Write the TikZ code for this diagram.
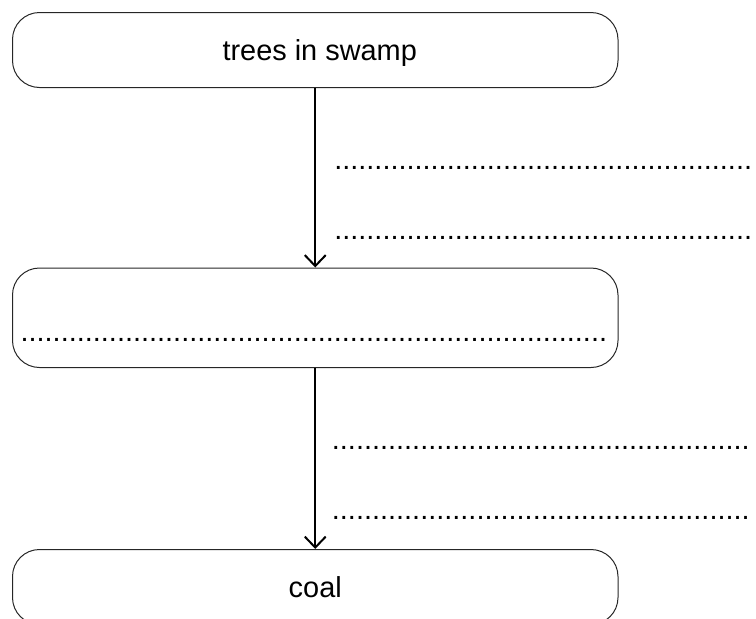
\documentclass[tikz,border=0pt]{standalone}
\usepackage{fontspec}
\setmainfont{Liberation Sans}
\usetikzlibrary{arrows.meta}

\newcommand\dotrow[1]{\foreach \k in {1,...,#1}{.}}

\begin{document}
\begin{tikzpicture}[x=1pt,y=-1pt,
    box/.style={draw=black!85,line width=1pt,rounded corners=27pt,inner sep=0pt,
                minimum width=605.5pt,text height=20pt,text depth=0pt},
    gap/.style={inner sep=0pt,anchor=base west},
    every node/.style={font=\fontsize{28.9pt}{34pt}\selectfont},
    step arrow/.style={line width=2pt,-{Straight Barb[length=11pt,width=21pt]}}]
    \useasboundingbox (0,0) rectangle (756,619);
    \node[box,minimum height=75pt] (trees) at (315.25,50) {\hspace*{9pt}trees in swamp};
    \node[box,minimum height=99.5pt] (mid) at (315.25,317.75) {};
    \node[box,minimum height=75pt] (coal) at (315.25,587) {coal};
    % lines to fill in
    \node[gap] (g1) at (334.1,169.2) {\dotrow{52}};
    \node[gap] (g2) at (334.1,239.8) {\dotrow{52}};
    \node[gap] (g3) at (20.4,341.5) {\dotrow{73}};
    \node[gap] (g4) at (331.7,449.8) {\dotrow{52}};
    \node[gap] (g5) at (331.7,519.8) {\dotrow{52}};
    \draw[step arrow] (trees.south) -- (mid.north);
    \draw[step arrow] (mid.south) -- (coal.north);
\end{tikzpicture}
\end{document}
